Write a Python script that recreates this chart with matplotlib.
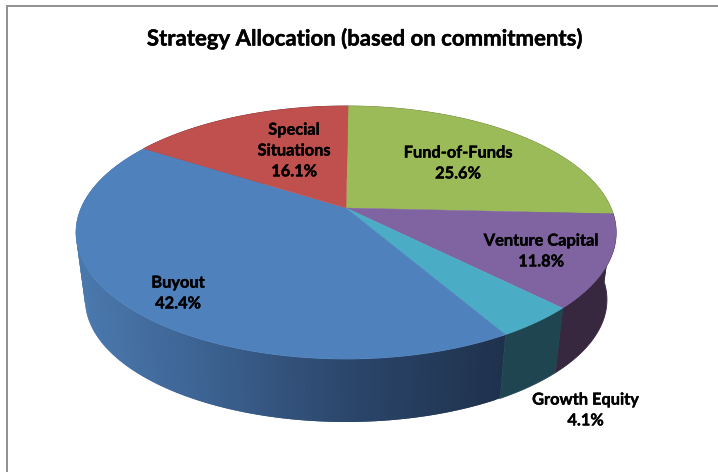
import numpy as np
import matplotlib
matplotlib.use("Agg")
import matplotlib.pyplot as plt
import matplotlib.patheffects as pe
from matplotlib.colors import to_rgb

# slices clockwise from 12 o'clock
categories = ["Fund-of-Funds", "Venture Capital", "Growth Equity", "Buyout", "Special\nSituations"]
shares = [25.6, 11.8, 4.1, 42.4, 16.1]
top_colors = ["#9bbb59", "#8064a2", "#4bacc6", "#4f81bd", "#c0504d"]
side_colors = ["#5d7035", "#372840", "#1f4650", None, "#733030"]
label_xy = [(458, 164), (541, 252), (585.5, 411), (178, 294), (294, 151.5)]

# pixel geometry of the tilted disc
CX, CY = 346, 208
RX, RY = 265, 121.8
K = 0.194
SHRINK, DEPTH = 0.966, 68
START = 0.0015


def project(frac, lower=False):
    # frac is the fraction of the full turn, clockwise from the top
    ang = 2 * np.pi * (np.asarray(frac) + START)
    u, v = np.sin(ang), np.cos(ang)
    d = 1 + K * v
    x, y = RX * u / d, -RY * v / d
    if lower:
        return CX + SHRINK * x, CY + SHRINK * y + DEPTH
    return CX + x, CY + y


def buyout_shade(x):
    # side of the big slice darkens from left to right
    stops = [85, 190, 346, 500]
    cols = np.array([to_rgb(c) for c in ["#4a78ad", "#3e6595", "#2b466b", "#1f324d"]])
    return tuple(np.interp(x, stops, cols[:, i]) for i in range(3))


fig = plt.figure(figsize=(7.18, 4.72), dpi=100)
ax = fig.add_axes([0, 0, 1, 1])
ax.set_xlim(0, 718)
ax.set_ylim(472, 0)
ax.axis("off")

# chart frame, only left and top are in the crop
ax.plot([7.3, 7.3, 718], [472, 5.7, 5.7], color="#8f8f8f", lw=1.4, solid_joinstyle="miter")

edges = np.cumsum([0] + shares) / sum(shares)

# side wall first, the top face covers what is at the back
for i in range(len(shares)):
    if side_colors[i]:
        fr = np.linspace(edges[i], edges[i + 1], 60)
        x0, y0 = project(fr)
        x1, y1 = project(fr[::-1], lower=True)
        ax.fill(np.r_[x0, x1], np.r_[y0, y1], color=side_colors[i], lw=0.6, zorder=2)
    else:
        # gradient wall: short overlapping pieces, each one runs under the next
        fr = np.linspace(edges[i], edges[i + 1], 161)
        for a, b, c in zip(fr[:-2], fr[1:-1], fr[2:]):
            x0, y0 = project([a, c])
            x1, y1 = project([c, a], lower=True)
            xs = np.r_[x0, x1]
            ax.fill(xs, np.r_[y0, y1], color=buyout_shade(xs.mean()), lw=0, zorder=2)

for i in range(len(shares)):
    fr = np.linspace(edges[i], edges[i + 1], 120)
    x, y = project(fr)
    ax.fill(np.r_[CX, x], np.r_[CY, y], color=top_colors[i], lw=0.3, zorder=3)

font = {"family": "Lato", "weight": "bold", "color": "black", "zorder": 5,
        "path_effects": [pe.withStroke(linewidth=0.3, foreground="black")]}
for name, val, (lx, ly) in zip(categories, shares, label_xy):
    ax.text(lx, ly, f"{name}\n{val}%", ha="center", va="center", fontsize=11.8, linespacing=1.62, **font)

ax.text(364.5, 38.5, "Strategy Allocation (based on commitments)", ha="center", va="center", fontsize=15.95, **font)

fig.savefig("out.png", dpi=100)
